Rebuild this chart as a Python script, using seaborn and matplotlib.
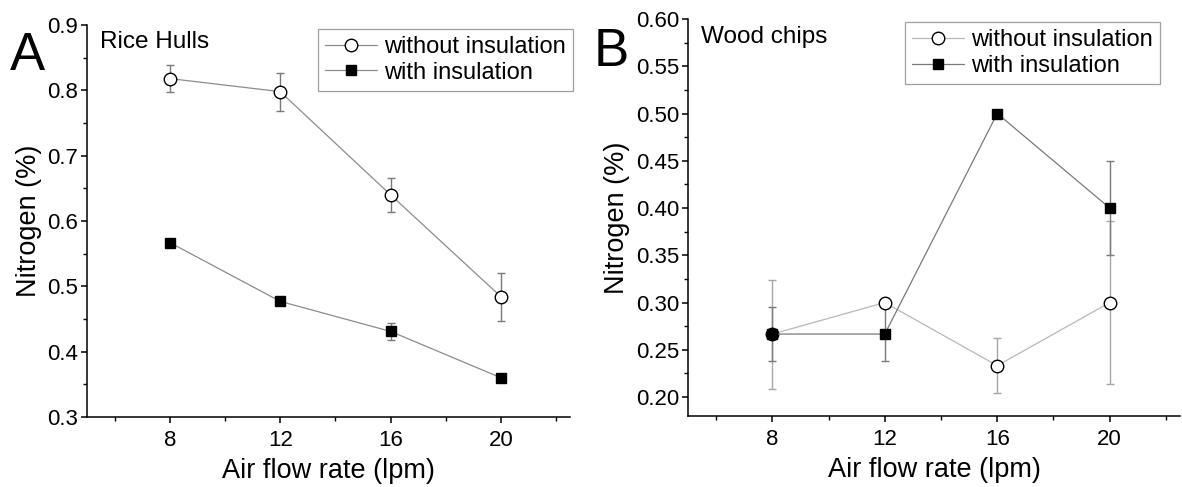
import numpy as np
import pandas as pd
import matplotlib
matplotlib.use("Agg")
import matplotlib.pyplot as plt
from matplotlib.ticker import MultipleLocator, FormatStrFormatter
import seaborn as sns

# Air flow rates (lpm)
flow = [8, 12, 16, 20]

# Rice hulls: nitrogen (%) mean and error
rice_without = [0.818, 0.798, 0.640, 0.484]
rice_without_err = [0.021, 0.029, 0.026, 0.037]
rice_with = [0.567, 0.477, 0.431, 0.360]
rice_with_err = [0.003, 0.005, 0.013, 0.005]

# Wood chips: nitrogen (%) mean and error
wood_without = [0.2667, 0.300, 0.2333, 0.300]
wood_without_err = [0.0577, 0.0, 0.0289, 0.0866]
wood_with = [0.2667, 0.2667, 0.500, 0.400]
wood_with_err = [0.0289, 0.0289, 0.0, 0.050]

series_labels = ["without insulation", "with insulation"]

sns.set_theme(style="ticks")
plt.rcParams["font.family"] = ["Liberation Sans", "DejaVu Sans"]
for key in ("text.color", "axes.labelcolor", "xtick.color", "ytick.color"):
    plt.rcParams[key] = "black"

fig = plt.figure(figsize=(11.82, 4.87), dpi=100)
axA = fig.add_axes([87 / 1182, 1 - 417 / 487, (570 - 87) / 1182, (417 - 25) / 487])
axB = fig.add_axes([688 / 1182, 1 - 416 / 487, (1180 - 688) / 1182, (416 - 19) / 487])


def draw_series(ax, y, err, marker, face, line_color, err_color, ms, label):
    df = pd.DataFrame({"flow": flow, "nitrogen": y})
    ax.errorbar(flow, y, yerr=err, fmt="none", ecolor=err_color, elinewidth=1.0,
                capsize=3, capthick=1.0, zorder=2)
    sns.lineplot(data=df, x="flow", y="nitrogen", ax=ax, color=line_color,
                 linewidth=0.9, marker=marker, markersize=ms,
                 markerfacecolor=face, markeredgecolor="black",
                 markeredgewidth=1.0, label=label, zorder=3)


def style_axes(ax, ylim, ymajor, yminor, yfmt):
    ax.set_xlim(5, 22.5)
    ax.set_ylim(*ylim)
    ax.xaxis.set_major_locator(MultipleLocator(4))
    ax.xaxis.set_minor_locator(MultipleLocator(2))
    ax.yaxis.set_major_locator(MultipleLocator(ymajor))
    ax.yaxis.set_minor_locator(MultipleLocator(yminor))
    ax.yaxis.set_major_formatter(FormatStrFormatter(yfmt))
    for side in ("top", "right"):
        ax.spines[side].set_visible(False)
    for side in ("left", "bottom"):
        ax.spines[side].set_color("black")
        ax.spines[side].set_linewidth(1.1)
    ax.tick_params(axis="both", which="major", direction="out", length=4.5,
                   width=1.1, color="black")
    ax.tick_params(axis="both", which="minor", direction="out", length=3,
                   width=1.0, color="black")
    ax.tick_params(axis="x", which="major", labelsize=16, pad=5)
    ax.tick_params(axis="y", which="major", labelsize=16, pad=2)
    ax.set_xlabel("Air flow rate (lpm)", fontsize=19.5, labelpad=5)
    ax.set_ylabel("Nitrogen (%)", fontsize=19.5, labelpad=4)
    ax.grid(False)


def add_legend(ax, bbox):
    leg = ax.legend(loc="upper right", bbox_to_anchor=bbox, fontsize=17,
                    frameon=True, fancybox=False, edgecolor="#888888",
                    handlelength=2.2, handletextpad=0.3, borderpad=0.3,
                    labelspacing=0.15, borderaxespad=0.0)
    leg.get_frame().set_linewidth(0.9)


# Panel A: rice hulls
draw_series(axA, rice_without, rice_without_err, "o", "white", "#8c8c8c", "#7a7a7a", 9, series_labels[0])
draw_series(axA, rice_with, rice_with_err, "s", "black", "#8c8c8c", "#7a7a7a", 7, series_labels[1])
style_axes(axA, (0.3, 0.9), 0.1, 0.05, "%.1f")
add_legend(axA, (1.006, 0.99))
fig.text(100 / 1182, 1 - 48 / 487, "Rice Hulls", fontsize=17.5, ha="left", va="baseline")
fig.text(10 / 1182, 1 - 70 / 487, "A", fontsize=38, ha="left", va="baseline")

# Panel B: wood chips
draw_series(axB, wood_without, wood_without_err, "o", "white", "#b8b8b8", "#a8a8a8", 9, series_labels[0])
draw_series(axB, wood_with, wood_with_err, "s", "black", "#7a7a7a", "#7a7a7a", 7, series_labels[1])
style_axes(axB, (0.18, 0.60), 0.05, 0.025, "%.2f")
add_legend(axB, (0.96, 0.992))
fig.text(701 / 1182, 1 - 43 / 487, "Wood chips", fontsize=17.5, ha="left", va="baseline")
fig.text(594 / 1182, 1 - 66 / 487, "B", fontsize=38, ha="left", va="baseline")

fig.savefig("out.png", dpi=100, facecolor="white")
